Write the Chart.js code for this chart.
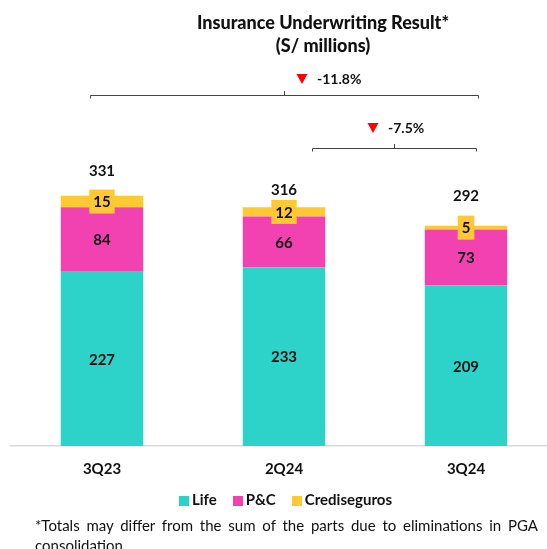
<!DOCTYPE html>
<html>
  <head>
    <title>Insurance Underwriting Result</title>
    <script src="https://cdn.jsdelivr.net/npm/chart.js"></script>
    <style>
      html, body { margin: 0; padding: 0; background: #fff; overflow: hidden; }
      body { width: 547px; height: 549px; position: relative; font-family: Lato, "Open Sans", sans-serif; color: #111; }
      #wrap { position: absolute; left: 0; top: 0; width: 557px; height: 549px; }
      .title { position: absolute; left: 0; width: 646px; text-align: center; font-weight: 900; font-size: 18px; line-height: 23px; top: 11px; }
      .legend { position: absolute; top: 490px; left: 179px; font-weight: bold; font-size: 15px; white-space: nowrap; }
      .legend span.item { display: inline-block; margin-right: 16px; line-height: 19px; }
      .legend i { display: inline-block; width: 10px; height: 10px; margin-right: 3px; vertical-align: -1px; }
      .note { position: absolute; left: 35px; top: 515px; width: 503px; font-size: 15px; line-height: 20px; text-align: justify; }
    </style>
  </head>
  <body>
    <div id="wrap"><canvas id="chart" width="557" height="549"></canvas></div>
    <div class="title">Insurance Underwriting Result*<br>(S/ millions)</div>
    <div class="legend" id="legend"></div>
    <div class="note">*Totals may differ from the sum of the parts due to eliminations in PGA consolidation</div>
    <script>
      // values
      const quarters = ["3Q23", "2Q24", "3Q24"];
      const life = [227, 233, 209];
      const pc = [84, 66, 73];
      const crediseguros = [15, 12, 5];
      const totals = [331, 316, 292];
      const changes = ["-11.8%", "-7.5%"];

      const colors = ["#2DD3C8", "#F242B2", "#FFC933"];
      const names = ["Life", "P&C", "Crediseguros"];

      const labelFont = "bold 15px Lato";

      // labels inside segments, totals above, and the change brackets
      const annotations = {
        id: "annotations",
        afterDatasetsDraw(chart) {
          const ctx = chart.ctx;
          const x = chart.scales.x;
          ctx.save();
          ctx.font = labelFont;
          ctx.textAlign = "center";
          ctx.textBaseline = "middle";

          chart.data.datasets.forEach((ds, di) => {
            chart.getDatasetMeta(di).data.forEach((bar, i) => {
              const cy = (bar.y + bar.base) / 2;
              const txt = String(ds.data[i]);
              if (di === 2) {
                const w = ctx.measureText(txt).width + 8;
                ctx.fillStyle = colors[2];
                ctx.fillRect(bar.x - w / 2, cy - 12, w, 24);
              }
              ctx.fillStyle = "#111";
              ctx.fillText(txt, bar.x, cy + 1);
            });
          });

          // totals above the stacks
          const lift = [25, 17, 30];
          const topBars = chart.getDatasetMeta(2).data;
          totals.forEach((t, i) => {
            ctx.fillStyle = "#111";
            ctx.fillText(String(t), topBars[i].x, topBars[i].y - lift[i]);
          });

          const c0 = x.getPixelForValue(0), c1 = x.getPixelForValue(1), c2 = x.getPixelForValue(2);
          function bracket(l, r, y, mid) {
            ctx.strokeStyle = "#444";
            ctx.lineWidth = 1;
            ctx.beginPath();
            ctx.moveTo(l + 0.5, y + 3.5);
            ctx.lineTo(l + 0.5, y + 0.5);
            ctx.lineTo(r + 0.5, y + 0.5);
            ctx.lineTo(r + 0.5, y + 3.5);
            ctx.moveTo(mid + 0.5, y + 0.5);
            ctx.lineTo(mid + 0.5, y - 4);
            ctx.stroke();
          }
          function badge(tx, ty, txt) {
            ctx.fillStyle = "#FF0000";
            ctx.beginPath();
            ctx.moveTo(tx - 5.5, ty - 5);
            ctx.lineTo(tx + 5.5, ty - 5);
            ctx.lineTo(tx, ty + 5);
            ctx.closePath();
            ctx.fill();
            ctx.fillStyle = "#111";
            ctx.textAlign = "left";
            ctx.font = "bold 14px Lato";
            ctx.fillText(txt, tx + 15, ty);
          }
          bracket(c0 - 12, c2 + 12, 95, c1);
          badge(c1 + 18, 79, changes[0]);
          const l2 = c1 + 28, r2 = c2 + 10;
          bracket(l2, r2, 148, (l2 + r2) / 2);
          badge((l2 + r2) / 2 - 21, 128, changes[1]);
          ctx.restore();
        }
      };

      new Chart(document.getElementById("chart"), {
        type: "bar",
        data: {
          labels: quarters,
          datasets: [
            { label: names[0], data: life, backgroundColor: colors[0] },
            { label: names[1], data: pc, backgroundColor: colors[1] },
            { label: names[2], data: crediseguros, backgroundColor: colors[2] }
          ]
        },
        options: {
          responsive: false,
          animation: false,
          layout: { padding: { top: 139, left: 11, right: 0, bottom: 0 } },
          datasets: { bar: { barPercentage: 0.453, categoryPercentage: 1 } },
          plugins: { legend: { display: false }, title: { display: false }, tooltip: { enabled: false } },
          scales: {
            x: {
              stacked: true,
              grid: { display: false, drawTicks: false },
              border: { color: "#D9D9D9", width: 1.5 },
              ticks: { color: "#111", font: { family: "Lato", weight: "bold", size: 15 }, padding: 14 },
              afterFit(scale) { scale.height = 103; }
            },
            y: { stacked: true, display: false, min: 0, max: 400 }
          }
        },
        plugins: [annotations]
      });

      // legend
      document.getElementById("legend").innerHTML = names
        .map((n, i) => '<span class="item"><i style="background:' + colors[i] + '"></i>' + n.replace("&", "&amp;") + "</span>")
        .join("");
    </script>
  </body>
</html>
